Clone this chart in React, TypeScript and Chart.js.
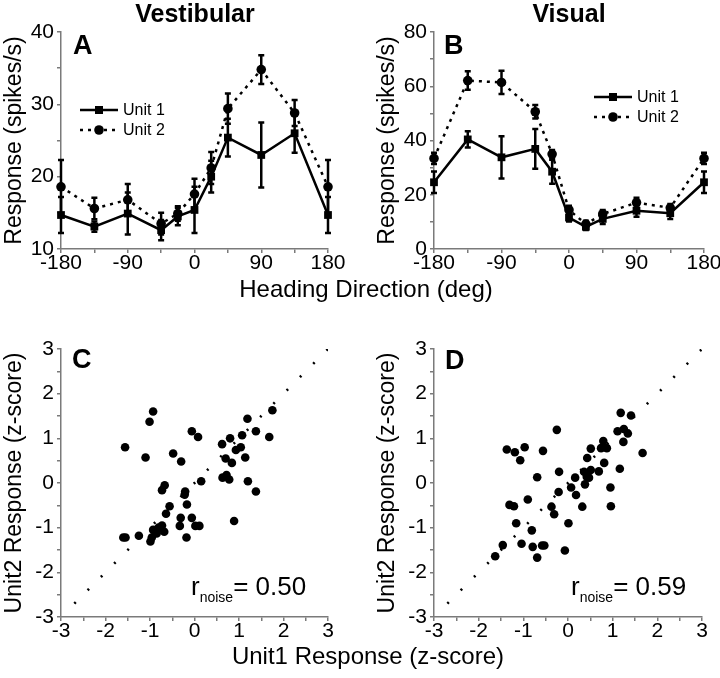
import React, { useEffect, useRef } from 'react';
import { Chart, registerables } from 'chart.js';

Chart.register(...registerables);

// ---------- data ----------
const headings = [-180, -135, -90, -45, -22.5, 0, 22.5, 45, 90, 135, 180];

const vestUnit1 = [14.7, 13.1, 14.9, 12.6, 14.5, 15.4, 20.0, 25.4, 23.0, 26.0, 14.7];
const vestUnit1Err = [2.5, 0.7, 2.9, 1.4, 1.2, 3.2, 2.2, 2.6, 4.5, 2.7, 2.5];
const vestUnit2 = [18.6, 15.6, 16.8, 13.5, 14.9, 17.6, 21.2, 29.4, 34.8, 28.8, 18.6];
const vestUnit2Err = [3.7, 1.5, 2.2, 1.5, 1.0, 2.1, 2.2, 2.1, 2.0, 1.8, 3.7];

const visUnit1 = [24.6, 40.4, 33.8, 36.9, 28.5, 11.6, 8.2, 11.1, 14.1, 13.2, 24.6];
const visUnit1Err = [4.0, 3.0, 7.8, 7.3, 4.4, 1.5, 1.2, 1.9, 2.2, 2.1, 4.0];
const visUnit2 = [33.4, 62.1, 61.4, 50.6, 35.0, 14.4, 9.2, 12.9, 17.1, 15.2, 33.4];
const visUnit2Err = [2.1, 3.4, 4.3, 2.5, 1.5, 1.5, 1.2, 1.5, 1.8, 1.4, 2.1];

const vestZ1 = [-0.93, -1.01, -1.56, -1.10, -0.06, 0.08, -0.48, -0.30, 1.75, 1.19, 1.38, 1.68, 1.07, 0.80, 0.62, 0.93, 1.04, 1.14, 0.70, 0.84, 0.15, 0.63, 0.72, 0.78, 1.20, 1.38, -0.67, -0.73, -0.21, -0.22, -0.17, -0.56, -0.64, -0.31, -0.06, -0.33, 0.02, 0.11, 0.89, -0.73, -0.81, -0.93, -0.68, -0.85, -0.96, -0.99, -1.25, -1.55, -1.60, -0.18];
const vestZ2 = [1.60, 1.37, 0.80, 0.57, 1.16, 1.03, 0.66, 0.48, 1.63, 1.44, 1.16, 1.03, 1.07, 1.00, 0.87, 0.74, 0.80, 0.57, 0.55, 0.45, 0.04, 0.12, 0.18, 0.08, 0.04, -0.19, -0.05, -0.16, -0.19, -0.26, -0.48, -0.52, -0.69, -0.78, -0.78, -0.96, -0.96, -0.96, -0.85, -0.95, -1.00, -1.05, -1.09, -1.13, -1.22, -1.31, -1.18, -1.22, -1.22, -1.22];

const visZ1 = [1.18, 1.41, -0.25, 1.11, 1.25, 1.34, 1.24, 0.79, 0.74, 0.87, 0.51, 1.67, -1.37, -1.19, -0.97, -1.07, -0.56, 0.43, 0.81, 1.16, -0.20, -0.69, 0.16, 0.36, 0.51, 0.69, 0.42, 0.47, 0.38, 0.07, -0.21, 0.18, 0.95, -0.90, -1.31, -1.21, -0.37, -0.31, 0.32, 0.96, -1.16, -0.81, 0.01, -1.46, -1.04, -0.79, -0.58, -0.53, -1.63, -0.69, -0.07];
const visZ2 = [1.57, 1.51, 1.19, 1.16, 1.21, 1.11, 0.92, 0.94, 0.78, 0.78, 0.77, 0.67, 0.75, 0.69, 0.80, 0.51, 0.72, 0.56, 0.45, 0.32, 0.25, 0.13, 0.12, 0.25, 0.29, 0.26, 0.14, 0.12, -0.03, -0.10, -0.20, -0.27, -0.10, -0.37, -0.49, -0.52, -0.53, -0.70, -0.53, -0.52, -0.90, -1.06, -0.90, -1.39, -1.36, -1.43, -1.40, -1.40, -1.64, -1.67, -1.51];

const unityLine = [-2.7, 3];
const seriesNames = ['Unit 1', 'Unit 2'];

// ---------- styles ----------
const AXIS = '#7a7a7a';
const SANS = "'Liberation Sans', Arial, sans-serif";
const tickFont = { family: SANS, size: 21, lineHeight: 1 };

const errorBarPlugin = {
  id: 'errorBars',
  beforeDatasetsDraw(chart: any) {
    const { ctx } = chart;
    const xs = chart.scales.x;
    const ys = chart.scales.y;
    ctx.save();
    ctx.strokeStyle = '#000';
    ctx.lineWidth = 2.5;
    chart.data.datasets.forEach((ds: any) => {
      if (!ds.errors) return;
      ds.data.forEach((p: any, i: number) => {
        const e = ds.errors[i];
        const px = xs.getPixelForValue(p.x);
        const t = ys.getPixelForValue(p.y + e);
        const b = ys.getPixelForValue(p.y - e);
        ctx.beginPath();
        ctx.moveTo(px, t);
        ctx.lineTo(px, b);
        ctx.moveTo(px - 3, t);
        ctx.lineTo(px + 3, t);
        ctx.moveTo(px - 3, b);
        ctx.lineTo(px + 3, b);
        ctx.stroke();
      });
    });
    ctx.restore();
  },
};

const legendPlugin = {
  id: 'unitLegend',
  afterDraw(chart: any, _args: any, opts: any) {
    if (!opts || !opts.show) return;
    const { ctx, chartArea } = chart;
    const x0 = chartArea.left + opts.dx;
    let y = chartArea.top + opts.dy;
    ctx.save();
    chart.data.datasets.forEach((ds: any) => {
      ctx.strokeStyle = '#000';
      ctx.fillStyle = '#000';
      ctx.lineWidth = 2.5;
      ctx.setLineDash(ds.borderDash || []);
      ctx.beginPath();
      ctx.moveTo(x0, y);
      ctx.lineTo(x0 + 38, y);
      ctx.stroke();
      ctx.setLineDash([]);
      const mx = x0 + 19;
      if (ds.pointStyle === 'rect') {
        ctx.fillRect(mx - 4, y - 4, 8, 8);
      } else {
        ctx.beginPath();
        ctx.arc(mx, y, 4.8, 0, Math.PI * 2);
        ctx.fill();
      }
      ctx.font = `16px ${SANS}`;
      ctx.textBaseline = 'middle';
      ctx.textAlign = 'left';
      ctx.fillText(ds.label, x0 + 43, y + 1);
      y += 20;
    });
    ctx.restore();
  },
};

function majorOnly(major: number) {
  return (v: any) => (Math.abs(Number(v) % major) < 1e-9 ? String(v) : '');
}

function axis(min: number, max: number, step: number, major: number, size: number, horizontal: boolean, title?: string) {
  const s: any = {
    type: 'linear',
    min,
    max,
    ticks: {
      stepSize: step,
      autoSkip: false,
      maxRotation: 0,
      color: '#000',
      font: tickFont,
      padding: horizontal ? 0 : 3,
      callback: majorOnly(major),
    },
    grid: { drawOnChartArea: false, drawTicks: true, tickLength: 4, color: AXIS, lineWidth: 1.5 },
    border: { display: true, color: AXIS, width: 1.5 },
    afterFit: (sc: any) => {
      if (horizontal) sc.height = size;
      else sc.width = size;
    },
  };
  if (title) {
    s.title = { display: true, text: title, color: '#000', font: { family: SANS, size: 23 }, padding: { top: 1, bottom: 0 } };
  }
  return s;
}

function tuningConfig(u1: number[], e1: number[], u2: number[], e2: number[], yMax: number, yMin: number, yStep: number, yMajor: number, pad: any, xH: number, legend: any) {
  const pts = (arr: number[]) => headings.map((h, i) => ({ x: h, y: arr[i] }));
  return {
    type: 'line',
    data: {
      datasets: [
        {
          label: seriesNames[0],
          data: pts(u1),
          errors: e1,
          borderColor: '#000',
          backgroundColor: '#000',
          borderWidth: 2.5,
          pointStyle: 'rect',
          pointRadius: 5.5,
          pointBackgroundColor: '#000',
          pointBorderWidth: 0,
          clip: false,
        },
        {
          label: seriesNames[1],
          data: pts(u2),
          errors: e2,
          borderColor: '#000',
          backgroundColor: '#000',
          borderWidth: 2.5,
          borderDash: [3, 5],
          pointStyle: 'circle',
          pointRadius: 4.8,
          pointBackgroundColor: '#000',
          pointBorderWidth: 0,
          clip: false,
        },
      ],
    },
    options: {
      responsive: false,
      animation: false,
      layout: { padding: pad },
      plugins: { legend: { display: false }, tooltip: { enabled: false }, unitLegend: legend },
      scales: {
        x: axis(-180, 180, 45, 90, xH, true),
        y: axis(yMin, yMax, yStep, yMajor, 61, false, 'Response (spikes/s)'),
      },
    },
    plugins: [errorBarPlugin, legendPlugin],
  };
}

function scatterConfig(zx: number[], zy: number[], pad: any, xH: number) {
  return {
    type: 'scatter',
    data: {
      datasets: [
        {
          label: 'unity',
          data: unityLine.map((v) => ({ x: v, y: v })),
          showLine: true,
          borderColor: '#000',
          borderWidth: 2.6,
          borderDash: [2, 16.8],
          pointRadius: 0,
        },
        {
          label: 'trials',
          data: zx.map((v, i) => ({ x: v, y: zy[i] })),
          pointRadius: 4.3,
          pointBackgroundColor: '#000',
          pointBorderWidth: 0,
          backgroundColor: '#000',
        },
      ],
    },
    options: {
      responsive: false,
      animation: false,
      layout: { padding: pad },
      plugins: { legend: { display: false }, tooltip: { enabled: false } },
      scales: {
        x: axis(-3, 3, 0.5, 1, xH, true),
        y: axis(-3, 3, 0.5, 1, 61, false, 'Unit2 Response (z-score)'),
      },
    },
  };
}

const abs = (o: any) => ({ position: 'absolute' as const, ...o });

export default function App() {
  const a = useRef<HTMLCanvasElement>(null);
  const b = useRef<HTMLCanvasElement>(null);
  const c = useRef<HTMLCanvasElement>(null);
  const d = useRef<HTMLCanvasElement>(null);

  useEffect(() => {
    const charts = [
      new Chart(a.current as any, tuningConfig(vestUnit1, vestUnit1Err, vestUnit2, vestUnit2Err, 40, 10, 5, 10, { top: 32, right: 32, left: 0, bottom: 0 }, 51, { show: true, dx: 19, dy: 78 }) as any),
      new Chart(b.current as any, tuningConfig(visUnit1, visUnit1Err, visUnit2, visUnit2Err, 80, 0, 10, 20, { top: 32, right: 29, left: 0, bottom: 0 }, 51, { show: true, dx: 160, dy: 65 }) as any),
      new Chart(c.current as any, scatterConfig(vestZ1, vestZ2, { top: 49, right: 32, left: 0, bottom: 0 }, 61) as any),
      new Chart(d.current as any, scatterConfig(visZ1, visZ2, { top: 49, right: 31, left: 0, bottom: 0 }, 61) as any),
    ];
    return () => charts.forEach((ch) => ch.destroy());
  }, []);

  const bold = { fontFamily: SANS, fontWeight: 'bold' as const, lineHeight: 1, color: '#000' };
  const reg = { fontFamily: SANS, lineHeight: 1, color: '#000' };

  return (
    <div style={{ position: 'absolute', left: 0, top: 0, width: 720, height: 678, overflow: 'hidden', background: '#fff' }}>
      <canvas ref={a} width={360} height={300} style={abs({ left: 0, top: 0 })} />
      <canvas ref={b} width={360} height={300} style={abs({ left: 373, top: 0 })} />
      <canvas ref={c} width={360} height={378} style={abs({ left: 0, top: 300 })} />
      <canvas ref={d} width={360} height={378} style={abs({ left: 373, top: 300 })} />

      <div style={abs({ ...bold, fontSize: 25, left: 95, width: 200, top: 1, textAlign: 'center' })}>Vestibular</div>
      <div style={abs({ ...bold, fontSize: 25, left: 469, width: 200, top: 1, textAlign: 'center' })}>Visual</div>

      <div style={abs({ ...bold, fontSize: 27, left: 73, top: 32 })}>A</div>
      <div style={abs({ ...bold, fontSize: 27, left: 444, top: 32 })}>B</div>
      <div style={abs({ ...bold, fontSize: 27, left: 72, top: 346 })}>C</div>
      <div style={abs({ ...bold, fontSize: 27, left: 445, top: 347 })}>D</div>

      <div style={abs({ ...reg, fontSize: 24, left: 166, width: 400, top: 277, textAlign: 'center' })}>Heading Direction (deg)</div>
      <div style={abs({ ...reg, fontSize: 24, left: 168, width: 400, top: 644, textAlign: 'center' })}>Unit1 Response (z-score)</div>

      <div style={abs({ ...reg, fontSize: 26, left: 191, top: 573, whiteSpace: 'nowrap' })}>
        r<span style={{ fontSize: 14, verticalAlign: -7 }}>noise</span>= 0.50
      </div>
      <div style={abs({ ...reg, fontSize: 26, left: 571, top: 573, whiteSpace: 'nowrap' })}>
        r<span style={{ fontSize: 14, verticalAlign: -7 }}>noise</span>= 0.59
      </div>
    </div>
  );
}
